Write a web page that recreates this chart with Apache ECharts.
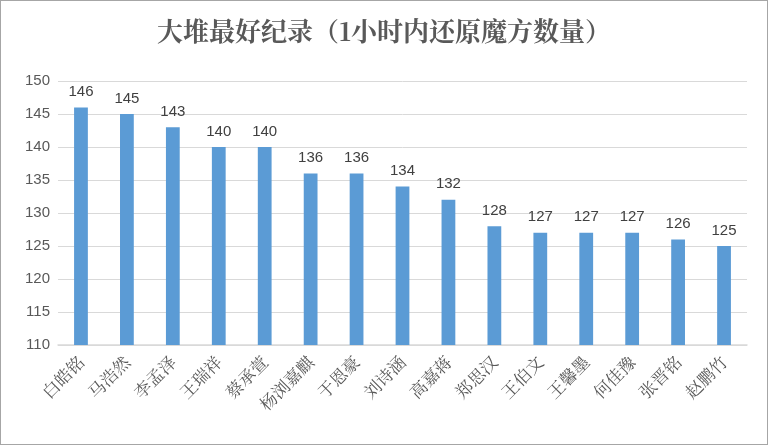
<!DOCTYPE html><html><head><meta charset="utf-8"><script src="https://cdn.jsdelivr.net/npm/echarts@6/dist/echarts.min.js"></script>
<style>html,body{margin:0;padding:0;background:#fff}#c{width:766px;height:443px;border:1px solid #a6a6a6}</style></head><body><div id="c"></div><script>
const categories=['白皓铭','马浩然','李孟泽','王瑞祥','蔡承萱','杨浏嘉麒','于恩豪','刘诗涵','高嘉蒋','郑思汉','王伯文','王馨墨','何佳豫','张晋铭','赵鹏竹'];
const values=[146,145,143,140,140,136,136,134,132,128,127,127,127,126,125];
const chart=echarts.init(document.getElementById('c'));
chart.setOption({
title:{text:'大堆最好纪录（1小时内还原魔方数量）',left:'center',top:12,textStyle:{fontFamily:'Noto Serif CJK SC, Noto Sans CJK SC, serif',fontWeight:'bold',fontSize:26,color:'#595959'}},
grid:{left:57,right:20,top:80,bottom:99},
xAxis:{type:'category',data:categories,axisTick:{show:false},axisLine:{lineStyle:{color:'#d9d9d9',width:1.5}},
axisLabel:{rotate:45,color:'#595959',fontSize:17,fontFamily:'Noto Serif CJK SC, serif',margin:14}},
yAxis:{type:'value',min:110,max:150,interval:5,axisLabel:{color:'#595959',fontSize:15,fontFamily:'Liberation Sans'},splitLine:{lineStyle:{color:'#d9d9d9'}}},
series:[{type:'bar',data:values,barWidth:'30%',itemStyle:{color:'#5b9bd5'},label:{show:true,position:'top',color:'#404040',fontSize:15,fontFamily:'Liberation Sans',distance:8}}]
});
</script></body></html>
